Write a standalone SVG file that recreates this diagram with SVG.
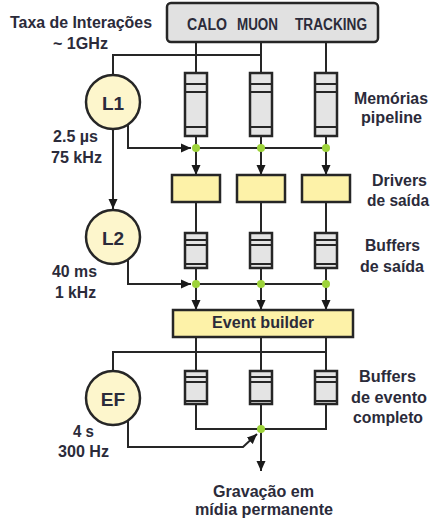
<svg xmlns="http://www.w3.org/2000/svg" width="432" height="521" viewBox="0 0 432 521">
<style>
text{font-family:"Liberation Sans",Arial,sans-serif;font-weight:bold;font-size:16px;fill:#2b2b3a}
.c{text-anchor:middle}
.ln{fill:none;stroke:#262626;stroke-width:2}
.mem{fill:#e4e4e4;stroke:#262626;stroke-width:2.5}
.sep{stroke:#262626;stroke-width:1.8}
.drv{fill:#fdf2a8;stroke:#262626;stroke-width:2.5}
.trig{fill:#fdf6cc;stroke:#262626;stroke-width:2.5}
.dot{fill:#9dd33a}
</style>
<defs>
<marker id="ah" markerUnits="userSpaceOnUse" markerWidth="11" markerHeight="10" refX="10" refY="5" orient="auto">
<path d="M0,0.5 L10,5 L0,9.5 z" fill="#1a1a1a"/>
</marker>
</defs>
<rect width="432" height="521" fill="#ffffff"/>

<g id="connectors">
<!-- detector to pipelines -->
<path class="ln" d="M196,42 V73 M261,42 V73 M326,42 V73"/>
<!-- L1 input -->
<path class="ln" d="M113,75 V55 H261"/>
<!-- pipelines to dots -->
<path class="ln" d="M196,136 V148 M261,136 V148 M326,136 V148"/>
<path class="ln" d="M196,148 H326"/>
<path class="ln" d="M128,124 V148 H191" marker-end="url(#ah)"/>
<path class="ln" d="M196,148 V175" marker-end="url(#ah)"/>
<path class="ln" d="M261,148 V175" marker-end="url(#ah)"/>
<path class="ln" d="M326,148 V175" marker-end="url(#ah)"/>
<!-- L1 to L2 -->
<path class="ln" d="M113,129 V209" marker-end="url(#ah)"/>
<!-- drivers to buffers -->
<path class="ln" d="M196,202 V233 M261,202 V233 M326,202 V233"/>
<path class="ln" d="M196,268 V284 M261,268 V284 M326,268 V284"/>
<path class="ln" d="M196,284 H326"/>
<path class="ln" d="M128,259 V284 H191" marker-end="url(#ah)"/>
<path class="ln" d="M196,284 V310" marker-end="url(#ah)"/>
<path class="ln" d="M261,284 V310" marker-end="url(#ah)"/>
<path class="ln" d="M326,284 V310" marker-end="url(#ah)"/>
<!-- event builder to full event buffers -->
<path class="ln" d="M196,337 V371 M261,337 V371 M326,337 V371"/>
<path class="ln" d="M113,371 V352 H326"/>
<path class="ln" d="M196,404 V429 H326 V404 M261,404 V429"/>
<path class="ln" d="M128,420 V447 H243 L257,434" marker-end="url(#ah)"/>
<path class="ln" d="M261,429 V471" marker-end="url(#ah)"/>
</g>

<g id="detector">
<rect x="167" y="3" width="211" height="39" rx="4" fill="#e1e1e1" stroke="#262626" stroke-width="2.5"/>
<text x="207" y="30" class="c" textLength="40" lengthAdjust="spacingAndGlyphs">CALO</text>
<text x="257.5" y="30" class="c" textLength="41" lengthAdjust="spacingAndGlyphs">MUON</text>
<text x="331" y="30" class="c" textLength="72" lengthAdjust="spacingAndGlyphs">TRACKING</text>
</g>

<g id="pipeline-memories">
<rect class="mem" x="185" y="73" width="22" height="63"/>
<rect class="mem" x="250" y="73" width="22" height="63"/>
<rect class="mem" x="315" y="73" width="22" height="63"/>
<path class="sep" d="M185,84 h22 M185,92 h22 M185,127 h22 M250,84 h22 M250,92 h22 M250,127 h22 M315,84 h22 M315,92 h22 M315,127 h22"/>
</g>

<g id="output-drivers">
<rect class="drv" x="172" y="175" width="48" height="27"/>
<rect class="drv" x="237" y="175" width="48" height="27"/>
<rect class="drv" x="302" y="175" width="48" height="27"/>
</g>

<g id="output-buffers">
<rect class="mem" x="185" y="233" width="22" height="35"/>
<rect class="mem" x="250" y="233" width="22" height="35"/>
<rect class="mem" x="315" y="233" width="22" height="35"/>
<path class="sep" d="M185,240 h22 M185,245 h22 M185,264 h22 M250,240 h22 M250,245 h22 M250,264 h22 M315,240 h22 M315,245 h22 M315,264 h22"/>
</g>

<g id="event-builder">
<rect class="drv" x="173" y="310" width="180" height="27"/>
<text x="263" y="328" class="c" textLength="102" lengthAdjust="spacingAndGlyphs">Event builder</text>
</g>

<g id="event-buffers">
<rect class="mem" x="185" y="371" width="22" height="33"/>
<rect class="mem" x="250" y="371" width="22" height="33"/>
<rect class="mem" x="315" y="371" width="22" height="33"/>
<path class="sep" d="M185,377 h22 M185,382 h22 M185,401 h22 M250,377 h22 M250,382 h22 M250,401 h22 M315,377 h22 M315,382 h22 M315,401 h22"/>
</g>

<g id="dots">
<circle class="dot" cx="196" cy="148" r="4"/>
<circle class="dot" cx="261" cy="148" r="4"/>
<circle class="dot" cx="326" cy="148" r="4"/>
<circle class="dot" cx="196" cy="284" r="4"/>
<circle class="dot" cx="261" cy="284" r="4"/>
<circle class="dot" cx="326" cy="284" r="4"/>
<circle class="dot" cx="261" cy="429" r="4"/>
</g>

<g id="L1">
<circle class="trig" cx="113" cy="102" r="27"/>
<text x="113" y="110" class="c" font-size="19" style="font-size:19px">L1</text>
<text x="75.5" y="142" class="c" textLength="45" lengthAdjust="spacingAndGlyphs">2.5 µs</text>
<text x="76.5" y="163" class="c" textLength="51" lengthAdjust="spacingAndGlyphs">75 kHz</text>
</g>

<g id="L2">
<circle class="trig" cx="113" cy="237" r="27"/>
<text x="113" y="245" class="c" style="font-size:19px">L2</text>
<text x="74.5" y="277" class="c" textLength="45" lengthAdjust="spacingAndGlyphs">40 ms</text>
<text x="75.5" y="298" class="c" textLength="41" lengthAdjust="spacingAndGlyphs">1 kHz</text>
</g>

<g id="EF">
<circle class="trig" cx="113" cy="398" r="27"/>
<text x="113" y="406" class="c" style="font-size:19px">EF</text>
<text x="83.5" y="437" class="c" textLength="21" lengthAdjust="spacingAndGlyphs">4 s</text>
<text x="83.5" y="457" class="c" textLength="51" lengthAdjust="spacingAndGlyphs">300 Hz</text>
</g>

<g id="labels">
<text x="81" y="28" class="c" textLength="142" lengthAdjust="spacingAndGlyphs">Taxa de Interações</text>
<text x="80.5" y="49" class="c" textLength="55" lengthAdjust="spacingAndGlyphs">~ 1GHz</text>
<text x="391" y="104" class="c" textLength="74" lengthAdjust="spacingAndGlyphs">Memórias</text>
<text x="391.5" y="123" class="c" textLength="61" lengthAdjust="spacingAndGlyphs">pipeline</text>
<text x="399.5" y="186" class="c" textLength="55" lengthAdjust="spacingAndGlyphs">Drivers</text>
<text x="398" y="206" class="c" textLength="62" lengthAdjust="spacingAndGlyphs">de saída</text>
<text x="392.5" y="251" class="c" textLength="55" lengthAdjust="spacingAndGlyphs">Buffers</text>
<text x="392" y="272" class="c" textLength="64" lengthAdjust="spacingAndGlyphs">de saída</text>
<text x="387.5" y="382" class="c" textLength="57" lengthAdjust="spacingAndGlyphs">Buffers</text>
<text x="389" y="403" class="c" textLength="76" lengthAdjust="spacingAndGlyphs">de evento</text>
<text x="388" y="423" class="c" textLength="70" lengthAdjust="spacingAndGlyphs">completo</text>
<text x="263.5" y="497" class="c" textLength="101" lengthAdjust="spacingAndGlyphs">Gravação em</text>
<text x="264" y="515" class="c" textLength="138" lengthAdjust="spacingAndGlyphs">mídia permanente</text>
</g>
</svg>
